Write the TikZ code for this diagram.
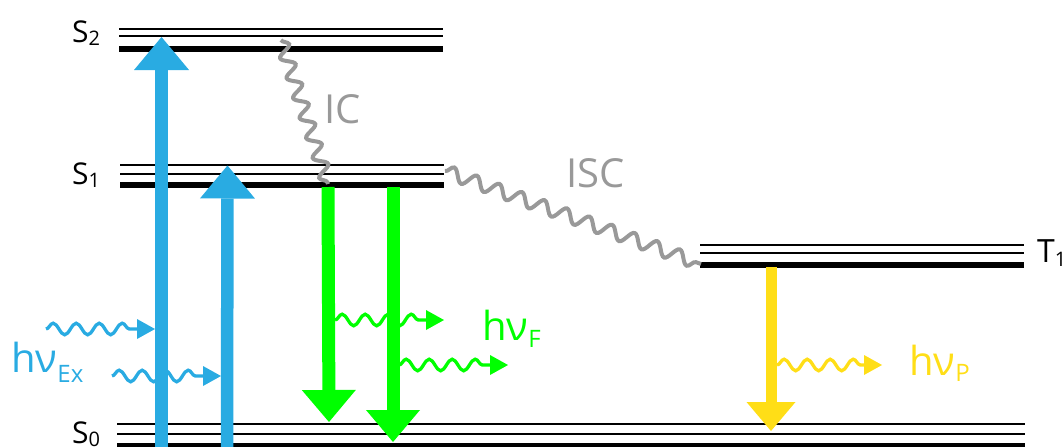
\documentclass[tikz,border=0pt]{standalone}
\usepackage{fontspec}
\setmainfont{Open Sans}
\usetikzlibrary{arrows.meta,decorations.pathmorphing}
\definecolor{exblue}{HTML}{29ABE2}
\definecolor{flgreen}{HTML}{00FF00}
\definecolor{phyellow}{HTML}{FFDE17}
\definecolor{icgray}{HTML}{999999}
\newcommand\mysub[3]{\raisebox{-#1pt}{\fontsize{#2}{#2}\selectfont #3}}
\begin{document}
\begin{tikzpicture}[x=1pt,y=-1pt,
  thinlevel/.style={line width=2pt, black},
  thicklevel/.style={line width=6pt, black},
  bigarrow/.style={line width=12.5pt, -{Triangle[length=33pt,width=55pt,line width=0pt]}},
  midarrow/.style={line width=13pt, -{Triangle[length=32pt,width=54pt,line width=0pt]}},
  smallarrow/.style={line width=11pt, -{Triangle[length=29pt,width=49pt,line width=0pt]}},
  photon/.style={line width=3.3pt, decorate,
    decoration={snake, amplitude=5.8pt, segment length=23pt, post length=19pt},
    -{Triangle[length=18pt,width=20pt,line width=0pt]}},
  nonrad/.style={icgray, line width=4pt, decorate,
    decoration={snake, amplitude=6.5pt, segment length=21pt}},
  lvllabel/.style={font=\fontsize{30}{32}\selectfont, anchor=base west, inner sep=0pt},
  biglabel/.style={font=\fontsize{40}{44}\selectfont, anchor=base west, inner sep=0pt}]
\useasboundingbox (0,0) rectangle (1063,447);

% ---- energy levels
\coordinate (S2aL) at (119,28.5);  \coordinate (S2aR) at (443,28.5);
\coordinate (S2bL) at (119,36.3);  \coordinate (S2bR) at (443,36.3);
\coordinate (S2cL) at (119,49);    \coordinate (S2cR) at (443,49);
\coordinate (S1aL) at (120,165.3); \coordinate (S1aR) at (444,165.3);
\coordinate (S1bL) at (120,173.7); \coordinate (S1bR) at (444,173.7);
\coordinate (S1cL) at (120,185.3); \coordinate (S1cR) at (444,185.3);
\coordinate (S0aL) at (117,423.5); \coordinate (S0aR) at (1025,423.5);
\coordinate (S0bL) at (117,433.5); \coordinate (S0bR) at (1025,433.5);
\coordinate (S0cL) at (117,446);   \coordinate (S0cR) at (1025,446);
\coordinate (T1aL) at (700,245);   \coordinate (T1aR) at (1024,245);
\coordinate (T1bL) at (700,253.3); \coordinate (T1bR) at (1024,253.3);
\coordinate (T1cL) at (700,265);   \coordinate (T1cR) at (1024,265);

\draw[thinlevel] (S2aL) -- (S2aR);
\draw[thinlevel] (S2bL) -- (S2bR);
\draw[thicklevel] (S2cL) -- (S2cR);
\draw[thinlevel] (S1aL) -- (S1aR);
\draw[thinlevel] (S1bL) -- (S1bR);
\draw[thicklevel] (S1cL) -- (S1cR);
\draw[thinlevel] (S0aL) -- (S0aR);
\draw[thinlevel] (S0bL) -- (S0bR);
\draw[thicklevel] (S0cL) -- (S0cR);
\draw[thinlevel] (T1aL) -- (T1aR);
\draw[thinlevel] (T1bL) -- (T1bR);
\draw[thicklevel] (T1cL) -- (T1cR);

% ---- level labels
\node[lvllabel] (lS2) at (72,42) {S\mysub{3}{20}{2}};
\node[lvllabel] (lS1) at (72,184) {S\mysub{3}{20}{1}};
\node[lvllabel] (lS0) at (72,443) {S\mysub{3}{20}{0}};
\node[lvllabel, font=\fontsize{32}{34}\selectfont] (lT1) at (1037,262) {T\mysub{4}{20}{1}};

% ---- non-radiative transitions
\coordinate (ics) at (281,40);   \coordinate (ice) at (328,184);
\coordinate (iscs) at (445,171); \coordinate (isce) at (701,264);
\draw[nonrad] (ics) -- (ice);
\draw[nonrad, decoration={segment length=24pt}] (iscs) -- (isce);
\node[biglabel, icgray] (lIC) at (324,123) {IC};
\node[biglabel, icgray] (lISC) at (566,187) {ISC};

% ---- absorption
\coordinate (ex1s) at (161.5,448); \coordinate (ex1e) at (161.5,37);
\coordinate (ex2s) at (227,448);   \coordinate (ex2e) at (227.5,165.5);
\draw[bigarrow, exblue] (ex1s) -- (ex1e);
\draw[bigarrow, exblue] (ex2s) -- (ex2e);
\coordinate (px1s) at (46,329);  \coordinate (px1e) at (155,329);
\coordinate (px2s) at (112,376); \coordinate (px2e) at (221,376);
\draw[photon, exblue] (px1s) -- (px1e);
\draw[photon, exblue] (px2s) -- (px2e);
\node[biglabel, exblue] (lEx) at (11,372) {hν\mysub{10}{24}{Ex}};

% ---- fluorescence
\coordinate (fl1s) at (328,187); \coordinate (fl1e) at (329,422);
\coordinate (fl2s) at (393,187); \coordinate (fl2e) at (393,442);
\draw[midarrow, flgreen] (fl1s) -- (fl1e);
\draw[midarrow, flgreen] (fl2s) -- (fl2e);
\coordinate (pf1s) at (335,320); \coordinate (pf1e) at (444,320);
\coordinate (pf2s) at (399,365); \coordinate (pf2e) at (508,365);
\draw[photon, flgreen] (pf1s) -- (pf1e);
\draw[photon, flgreen] (pf2s) -- (pf2e);
\node[biglabel, flgreen] (lF) at (482,340) {hν\mysub{7}{24}{F}};

% ---- phosphorescence
\coordinate (phs) at (771,267); \coordinate (phe) at (771,431);
\draw[smallarrow, phyellow] (phs) -- (phe);
\coordinate (pps) at (777,365); \coordinate (ppe) at (882,365);
\draw[photon, phyellow] (pps) -- (ppe);
\node[biglabel, phyellow] (lP) at (909,375) {hν\mysub{6}{24}{P}};
\end{tikzpicture}
\end{document}
